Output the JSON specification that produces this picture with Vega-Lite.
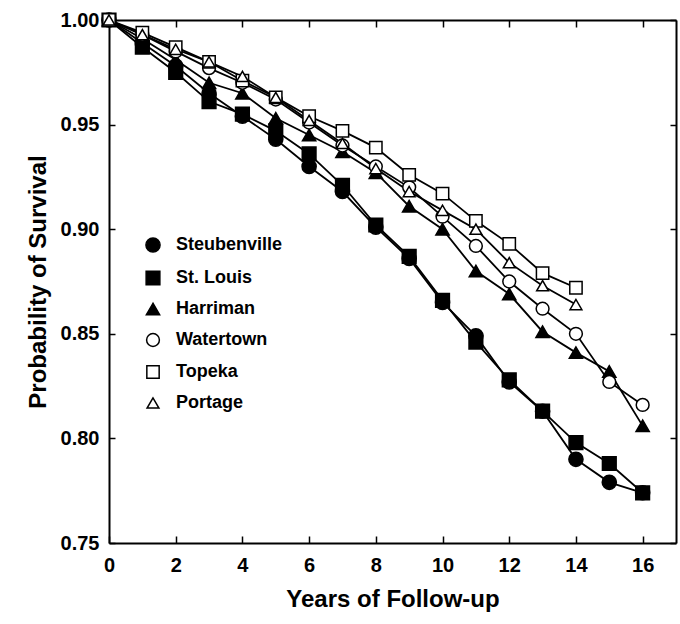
{
  "$schema": "https://vega.github.io/schema/vega-lite/v6.json",
  "width": 567,
  "height": 523,
  "autosize": {"type": "none"},
  "padding": {"left": 109, "top": 20, "right": 4, "bottom": 81},
  "background": "white",
  "config": {
    "view": {"stroke": null},
    "font": "Liberation Sans",
    "axis": {
      "grid": false,
      "domainColor": "black",
      "domainWidth": 2,
      "tickColor": "black",
      "tickWidth": 1.5,
      "labelColor": "black",
      "labelFont": "Liberation Sans",
      "labelFontWeight": "bold",
      "labelFontSize": 20,
      "titleFont": "Liberation Sans",
      "titleFontWeight": "bold",
      "titleFontSize": 24,
      "titleColor": "black"
    },
    "legend": {
      "title": null, "padding": 0, "labelFontSize": 18, "labelFont": "Liberation Sans", "labelFontWeight": "bold", "labelColor": "black",
      "rowPadding": 12, "labelOffset": 14, "symbolStrokeWidth": 1.5
    }
  },
  "data": {
    "values": [
      {"city": "Steubenville", "year": 0, "surv": 1.0},
      {"city": "Steubenville", "year": 1, "surv": 0.989},
      {"city": "Steubenville", "year": 2, "surv": 0.978},
      {"city": "Steubenville", "year": 3, "surv": 0.965},
      {"city": "Steubenville", "year": 4, "surv": 0.954},
      {"city": "Steubenville", "year": 5, "surv": 0.943},
      {"city": "Steubenville", "year": 6, "surv": 0.930},
      {"city": "Steubenville", "year": 7, "surv": 0.918},
      {"city": "Steubenville", "year": 8, "surv": 0.901},
      {"city": "Steubenville", "year": 9, "surv": 0.886},
      {"city": "Steubenville", "year": 10, "surv": 0.865},
      {"city": "Steubenville", "year": 11, "surv": 0.849},
      {"city": "Steubenville", "year": 12, "surv": 0.827},
      {"city": "Steubenville", "year": 13, "surv": 0.813},
      {"city": "Steubenville", "year": 14, "surv": 0.790},
      {"city": "Steubenville", "year": 15, "surv": 0.779},
      {"city": "Steubenville", "year": 16, "surv": 0.774},
      {"city": "St. Louis", "year": 0, "surv": 1.0},
      {"city": "St. Louis", "year": 1, "surv": 0.987},
      {"city": "St. Louis", "year": 2, "surv": 0.975},
      {"city": "St. Louis", "year": 3, "surv": 0.961},
      {"city": "St. Louis", "year": 4, "surv": 0.955},
      {"city": "St. Louis", "year": 5, "surv": 0.947},
      {"city": "St. Louis", "year": 6, "surv": 0.936},
      {"city": "St. Louis", "year": 7, "surv": 0.921},
      {"city": "St. Louis", "year": 8, "surv": 0.902},
      {"city": "St. Louis", "year": 9, "surv": 0.887},
      {"city": "St. Louis", "year": 10, "surv": 0.866},
      {"city": "St. Louis", "year": 11, "surv": 0.846},
      {"city": "St. Louis", "year": 12, "surv": 0.828},
      {"city": "St. Louis", "year": 13, "surv": 0.813},
      {"city": "St. Louis", "year": 14, "surv": 0.798},
      {"city": "St. Louis", "year": 15, "surv": 0.788},
      {"city": "St. Louis", "year": 16, "surv": 0.774},
      {"city": "Harriman", "year": 0, "surv": 1.0},
      {"city": "Harriman", "year": 1, "surv": 0.991},
      {"city": "Harriman", "year": 2, "surv": 0.981},
      {"city": "Harriman", "year": 3, "surv": 0.970},
      {"city": "Harriman", "year": 4, "surv": 0.965},
      {"city": "Harriman", "year": 5, "surv": 0.953},
      {"city": "Harriman", "year": 6, "surv": 0.945},
      {"city": "Harriman", "year": 7, "surv": 0.937},
      {"city": "Harriman", "year": 8, "surv": 0.927},
      {"city": "Harriman", "year": 9, "surv": 0.911},
      {"city": "Harriman", "year": 10, "surv": 0.900},
      {"city": "Harriman", "year": 11, "surv": 0.880},
      {"city": "Harriman", "year": 12, "surv": 0.869},
      {"city": "Harriman", "year": 13, "surv": 0.851},
      {"city": "Harriman", "year": 14, "surv": 0.841},
      {"city": "Harriman", "year": 15, "surv": 0.832},
      {"city": "Harriman", "year": 16, "surv": 0.806},
      {"city": "Watertown", "year": 0, "surv": 1.0},
      {"city": "Watertown", "year": 1, "surv": 0.993},
      {"city": "Watertown", "year": 2, "surv": 0.985},
      {"city": "Watertown", "year": 3, "surv": 0.977},
      {"city": "Watertown", "year": 4, "surv": 0.970},
      {"city": "Watertown", "year": 5, "surv": 0.962},
      {"city": "Watertown", "year": 6, "surv": 0.951},
      {"city": "Watertown", "year": 7, "surv": 0.940},
      {"city": "Watertown", "year": 8, "surv": 0.930},
      {"city": "Watertown", "year": 9, "surv": 0.920},
      {"city": "Watertown", "year": 10, "surv": 0.906},
      {"city": "Watertown", "year": 11, "surv": 0.892},
      {"city": "Watertown", "year": 12, "surv": 0.875},
      {"city": "Watertown", "year": 13, "surv": 0.862},
      {"city": "Watertown", "year": 14, "surv": 0.850},
      {"city": "Watertown", "year": 15, "surv": 0.827},
      {"city": "Watertown", "year": 16, "surv": 0.816},
      {"city": "Topeka", "year": 0, "surv": 1.0},
      {"city": "Topeka", "year": 1, "surv": 0.994},
      {"city": "Topeka", "year": 2, "surv": 0.987},
      {"city": "Topeka", "year": 3, "surv": 0.980},
      {"city": "Topeka", "year": 4, "surv": 0.971},
      {"city": "Topeka", "year": 5, "surv": 0.963},
      {"city": "Topeka", "year": 6, "surv": 0.954},
      {"city": "Topeka", "year": 7, "surv": 0.947},
      {"city": "Topeka", "year": 8, "surv": 0.939},
      {"city": "Topeka", "year": 9, "surv": 0.926},
      {"city": "Topeka", "year": 10, "surv": 0.917},
      {"city": "Topeka", "year": 11, "surv": 0.904},
      {"city": "Topeka", "year": 12, "surv": 0.893},
      {"city": "Topeka", "year": 13, "surv": 0.879},
      {"city": "Topeka", "year": 14, "surv": 0.872},
      {"city": "Portage", "year": 0, "surv": 1.0},
      {"city": "Portage", "year": 1, "surv": 0.993},
      {"city": "Portage", "year": 2, "surv": 0.986},
      {"city": "Portage", "year": 3, "surv": 0.980},
      {"city": "Portage", "year": 4, "surv": 0.973},
      {"city": "Portage", "year": 5, "surv": 0.963},
      {"city": "Portage", "year": 6, "surv": 0.952},
      {"city": "Portage", "year": 7, "surv": 0.941},
      {"city": "Portage", "year": 8, "surv": 0.929},
      {"city": "Portage", "year": 9, "surv": 0.918},
      {"city": "Portage", "year": 10, "surv": 0.909},
      {"city": "Portage", "year": 11, "surv": 0.900},
      {"city": "Portage", "year": 12, "surv": 0.884},
      {"city": "Portage", "year": 13, "surv": 0.873},
      {"city": "Portage", "year": 14, "surv": 0.864}
    ]
  },
  "layer": [
    {
      "mark": {"type": "line", "color": "black", "strokeWidth": 1.8},
      "encoding": {
        "x": {
          "field": "year", "type": "quantitative",
          "scale": {"domain": [0, 17], "nice": false, "zero": false},
          "axis": {"values": [0, 2, 4, 6, 8, 10, 12, 14, 16], "title": "Years of Follow-up", "tickSize": -7, "labelPadding": 19, "titlePadding": 12, "labelFlush": false}
        },
        "y": {
          "field": "surv", "type": "quantitative",
          "scale": {"domain": [0.75, 1.0], "nice": false, "zero": false},
          "axis": {"values": [0.75, 0.8, 0.85, 0.9, 0.95, 1.0], "format": ".2f", "title": "Probability of Survival", "tickSize": -6, "labelPadding": 16, "titlePadding": 10, "labelFlush": false}
        },
        "detail": {"field": "city", "type": "nominal"}
      }
    },
    {
      "mark": {"type": "point", "filled": true, "strokeWidth": 1.5, "opacity": 1},
      "encoding": {
        "x": {
          "field": "year", "type": "quantitative",
          "axis": {"orient": "top", "labels": false, "title": null, "values": [0, 2, 4, 6, 8, 10, 12, 14, 16], "tickSize": -7}
        },
        "y": {
          "field": "surv", "type": "quantitative",
          "axis": {"orient": "right", "labels": false, "title": null, "values": [0.75, 0.8, 0.85, 0.9, 0.95, 1.0], "tickSize": -6}
        },
        "size": {
          "field": "city", "type": "nominal",
          "scale": {"domain": ["Steubenville", "St. Louis", "Harriman", "Watertown", "Topeka", "Portage"], "range": [200, 140, 190, 180, 130, 170]},
          "legend": {"orient": "none", "legendX": 35, "legendY": 216}
        },
        "shape": {
          "field": "city", "type": "nominal",
          "scale": {"domain": ["Steubenville", "St. Louis", "Harriman", "Watertown", "Topeka", "Portage"], "range": ["circle", "square", "triangle-up", "circle", "square", "triangle-up"]},
          "legend": {"orient": "none", "legendX": 35, "legendY": 216}
        },
        "fill": {
          "field": "city", "type": "nominal",
          "scale": {"domain": ["Steubenville", "St. Louis", "Harriman", "Watertown", "Topeka", "Portage"], "range": ["black", "black", "black", "white", "white", "white"]},
          "legend": {"orient": "none", "legendX": 35, "legendY": 216}
        },
        "stroke": {
          "field": "city", "type": "nominal",
          "scale": {"domain": ["Steubenville", "St. Louis", "Harriman", "Watertown", "Topeka", "Portage"], "range": ["black", "black", "black", "black", "black", "black"]},
          "legend": {"orient": "none", "legendX": 35, "legendY": 216}
        }
      }
    }
  ],
  "resolve": {"axis": {"x": "independent", "y": "independent"}}
}
